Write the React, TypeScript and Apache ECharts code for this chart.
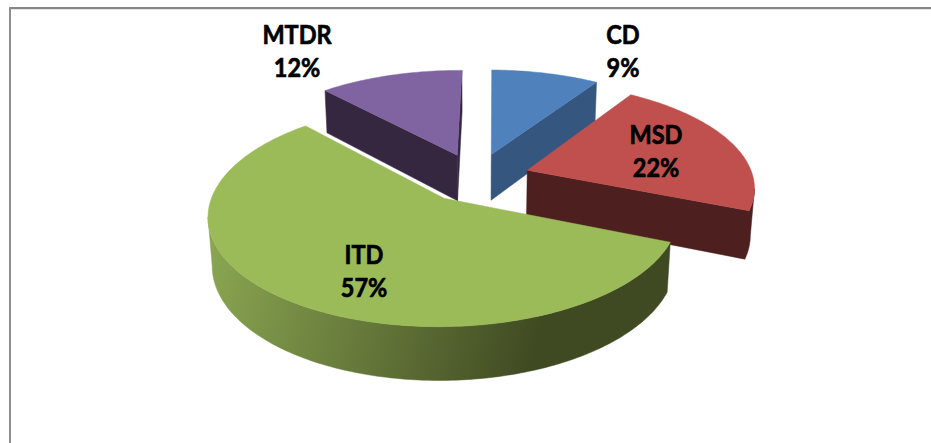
import React, { useEffect, useRef } from "react";
import * as echarts from "echarts";

// Share of each division, clockwise from the first slice angle.
const divisions = ["CD", "MSD", "ITD", "MTDR"];
const shares = [9, 22, 57, 12];
// Back-to-front paint sequence for the exploded slices.
const paintOrder = [3, 0, 1, 2];

const topColors = ["#4f81bd", "#c0504d", "#9bbb59", "#8064a2"];
const wallColors = ["#35567f", "#4d1f1f", "#3f4a22", "#35273f"];

// Centres of the two-line labels, in pixels.
const labelCentres: [number, number][] = [
  [623, 50],
  [656, 150],
  [364, 270],
  [297, 50],
];

// Perspective camera for the tilted disc.
const CX = 476;
const CY = 177.5;
const RX = 226;
const RY = 103;
const DEPTH = 47.5;
const TILT = 0.145;
const SHRINK = 0.015;
const EXPLODE = 0.24;
const FIRST_ANGLE = (0.7 * Math.PI) / 180;
const LABEL_SQUEEZE = 0.87;

const project = (a: number, b: number, z: number): [number, number] => {
  const w = 1 - TILT * b + SHRINK * z;
  return [CX + (RX * a) / w, CY + (RY * b + DEPTH * z) / w];
};

const total = shares.reduce((s, v) => s + v, 0);

const sliceOutline = (index: number): [number, number][] => {
  const before = shares.slice(0, index).reduce((s, v) => s + v, 0);
  const start = FIRST_ANGLE + (before / total) * Math.PI * 2;
  const end = FIRST_ANGLE + ((before + shares[index]) / total) * Math.PI * 2;
  const mid = (start + end) / 2;
  const ox = EXPLODE * Math.sin(mid);
  const oy = -EXPLODE * Math.cos(mid);
  const pts: [number, number][] = [[ox, oy]];
  const steps = Math.max(2, Math.round(((end - start) * 180) / Math.PI));
  for (let i = 0; i <= steps; i++) {
    const t = start + ((end - start) * i) / steps;
    pts.push([ox + Math.sin(t), oy - Math.cos(t)]);
  }
  return pts;
};

// Runs of boundary points whose side wall faces the viewer.
const visibleRuns = (outline: [number, number][]) => {
  const runs: [number, number][][] = [];
  let run: [number, number][] | null = null;
  for (let i = 0; i < outline.length; i++) {
    const p = outline[i];
    const q = outline[(i + 1) % outline.length];
    const front = project(q[0], q[1], 0)[0] < project(p[0], p[1], 0)[0];
    if (front) {
      if (!run) run = [p];
      run.push(q);
    } else if (run) {
      runs.push(run);
      run = null;
    }
  }
  if (run) runs.push(run);
  return runs;
};

const wallFill = (index: number) =>
  divisions[index] === "ITD"
    ? new echarts.graphic.LinearGradient(
        213, 250, 540, 330,
        [
          { offset: 0, color: "#89a551" },
          { offset: 0.5, color: "#66783a" },
          { offset: 1, color: wallColors[index] },
        ],
        true,
      )
    : wallColors[index];

const renderSlice = (_params: any, api: any) => {
  const index = api.value(0);
  const share = api.value(1);
  const outline = sliceOutline(index);
  const fill = wallFill(index);
  const children: any[] = visibleRuns(outline).map((run) => ({
    type: "polygon",
    shape: {
      points: [
        ...run.map((p) => project(p[0], p[1], 0)),
        ...run
          .slice()
          .reverse()
          .map((p) => project(p[0], p[1], 1)),
      ],
    },
    style: { fill, stroke: fill, lineWidth: 0.5 },
  }));
  children.push({
    type: "polygon",
    shape: { points: outline.map((p) => project(p[0], p[1], 0)) },
    style: { fill: topColors[index], stroke: topColors[index], lineWidth: 0.5 },
  });
  children.push({
    type: "text",
    x: labelCentres[index][0],
    y: labelCentres[index][1],
    scaleX: LABEL_SQUEEZE,
    style: {
      text: `${divisions[index]}\n${share}%`,
      fontFamily: "Lato, sans-serif",
      fontWeight: "bold",
      fontSize: 27,
      lineHeight: 33,
      fill: "#000000",
      stroke: "#000000",
      lineWidth: 0.7,
      textAlign: "center",
      textVerticalAlign: "middle",
    },
  });
  return { type: "group", children };
};

export default function App() {
  const ref = useRef<HTMLDivElement>(null);
  useEffect(() => {
    const chart = echarts.init(ref.current!, undefined, { renderer: "svg" });
    chart.setOption({
      animation: false,
      backgroundColor: "#ffffff",
      graphic: [
        { type: "rect", shape: { x: 9, y: 7, width: 922, height: 2 }, style: { fill: "#868686" } },
        { type: "rect", shape: { x: 11, y: 9, width: 920, height: 1 }, style: { fill: "#e3e3e3" } },
        { type: "rect", shape: { x: 9, y: 7, width: 2, height: 436 }, style: { fill: "#8f8f8f" } },
      ],
      series: [
        {
          type: "custom",
          coordinateSystem: "none",
          silent: true,
          renderItem: renderSlice,
          data: paintOrder.map((i) => [i, shares[i]]),
        },
      ],
    });
    return () => chart.dispose();
  }, []);
  return <div ref={ref} style={{ position: "fixed", left: 0, top: 0, width: 931, height: 443 }} />;
}
